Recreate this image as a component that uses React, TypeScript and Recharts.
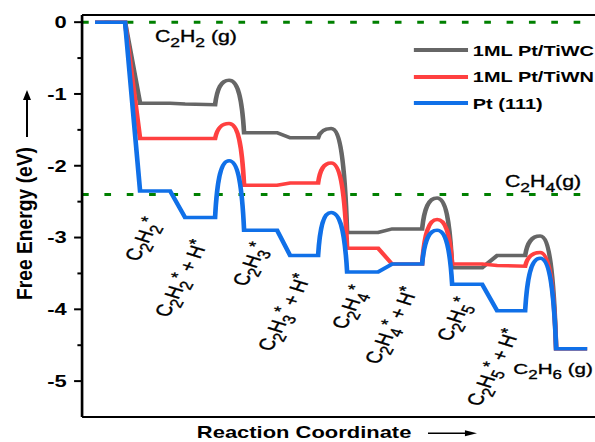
import React from 'react'
import { LineChart, Line, XAxis, YAxis, ReferenceLine, Legend } from 'recharts'

// reaction coordinate of each key point (plateau ends and transition states)
const coord = [1.3, 4.3, 5.8, 8.8, 10.3, 13.3, 14.7, 16.2, 19.5, 20.8, 23.6, 24.9, 26.5, 29.6, 31.0, 34.0, 35.5, 37.0, 40.0, 41.5, 44.3, 45.8, 47.4, 50.5]

// free energy (eV) at those points
const tiwc = [0, 0, -1.13, -1.13, -1.14, -1.15, -0.81, -1.54, -1.54, -1.61, -1.61, -1.48, -2.93, -2.93, -2.88, -2.88, -2.45, -3.42, -3.42, -3.25, -3.25, -2.98, -4.55, -4.55]
const tiwn = [0, 0, -1.62, -1.62, -1.62, -1.62, -1.41, -2.27, -2.27, -2.24, -2.24, -1.96, -3.15, -3.15, -3.37, -3.37, -2.75, -3.37, -3.37, -3.39, -3.4, -3.21, -4.55, -4.55]
const pt111 = [0, 0, -2.35, -2.35, -2.72, -2.72, -1.93, -2.9, -2.9, -3.25, -3.25, -2.65, -3.48, -3.48, -3.37, -3.37, -2.9, -3.65, -3.65, -4.02, -4.02, -3.29, -4.55, -4.55]

const seriesKeys = ['tiwc', 'tiwn', 'pt']
const seriesNames = ['1ML Pt/TiWC', '1ML Pt/TiWN', 'Pt (111)']
const seriesValues = [tiwc, tiwn, pt111]
const colors = ['#666666', '#ff4040', '#1070e8']

const yTicks = [0, -0.5, -1, -1.5, -2, -2.5, -3, -3.5, -4, -4.5, -5]
const gasLevels = [0, -2.4]

// intermediate names, "_" = subscript, "^" = superscript
const stateLabels = ['C_2H_2^*', 'C_2H_2^* + H^*', 'C_2H_3^*', 'C_2H_3^* + H^*', 'C_2H_4^*', 'C_2H_4^* + H^*', 'C_2H_5^*', 'C_2H_5^* + H^*']
const stateLabelPos = [[104, 262], [126.5, 318], [185, 287], [204, 352], [259.6, 330], [284.4, 365], [338.6, 342], [361, 407]]
const gasLabels = ['C_2H_2 (g)', 'C_2H_4(g)', 'C_2H_6 (g)']
const gasLabelPos = [[116.5, 42], [379.7, 187], [386, 374]]

const FONT = "'Liberation Sans', Arial, sans-serif"

const rows = coord.map((x, i) => {
  const r: any = { x }
  seriesKeys.forEach((k, j) => { r[k] = seriesValues[j][i] })
  return r
})

// straight segments, rounded bumps for the transition states
function bumpCurve(context: any) {
  let pts: number[][] = []
  return {
    areaStart() {},
    areaEnd() {},
    lineStart() { pts = [] },
    point(x: number, y: number) { pts.push([+x, +y]) },
    lineEnd() {
      if (!pts.length) return
      context.moveTo(pts[0][0], pts[0][1])
      for (let i = 1; i < pts.length; i++) {
        const [x0, y0] = pts[i - 1]
        const [x1, y1] = pts[i]
        const next = pts[i + 1]
        const isPeak = next && y1 < y0 && y1 < next[1]
        const fromPeak = i >= 2 && y0 < y1 && y0 < pts[i - 2][1]
        const dx = x1 - x0
        if (isPeak) {
          context.bezierCurveTo(x0 + dx * 0.15, y0 + (y1 - y0) * 0.7, x1 - dx * 0.55, y1, x1, y1)
        } else if (fromPeak) {
          context.bezierCurveTo(x0 + dx * 0.55, y0, x1 - dx * 0.15, y1 + (y0 - y1) * 0.7, x1, y1)
        } else {
          context.lineTo(x1, y1)
        }
      }
    },
  }
}

function YTick(props: any) {
  const { x, y, payload } = props
  const v = payload.value
  const major = Number.isInteger(v)
  return (
    <g>
      <line x1={x - (major ? 6 : 3.5)} x2={x} y1={y} y2={y} stroke="#000" strokeWidth={2} />
      {major && (
        <text x={x - 11.5} y={y} dy="0.36em" textAnchor="end" fontSize={16.5} fontWeight="bold" fontFamily={FONT} fill="#000">
          {String(v)}
        </text>
      )}
    </g>
  )
}

function Chem({ text, size }: { text: string; size: number }) {
  const segs: { t: string; kind: string }[] = []
  let buf = ''
  for (let i = 0; i < text.length; i++) {
    const ch = text[i]
    if (ch === '_' || ch === '^') {
      if (buf) segs.push({ t: buf, kind: 'n' })
      buf = ''
      segs.push({ t: text[i + 1], kind: ch === '_' ? 'sub' : 'sup' })
      i++
    } else buf += ch
  }
  if (buf) segs.push({ t: buf, kind: 'n' })
  let cur = 0
  return (
    <>
      {segs.map((s, i) => {
        const target = s.kind === 'sub' ? size * 0.3 : s.kind === 'sup' ? -size * 0.28 : 0
        const dy = target - cur
        cur = target
        const fs = s.kind === 'n' ? size : s.kind === 'sub' ? size * 0.82 : size * 0.85
        return (
          <tspan key={i} dy={dy} fontSize={fs}>
            {s.t}
          </tspan>
        )
      })}
    </>
  )
}

function LegendBox() {
  return (
    <div style={{ fontFamily: FONT }}>
      {seriesNames.map((n, i) => (
        <div key={n} style={{ display: 'flex', alignItems: 'center', height: 26.5 }}>
          <svg width={41} height={6} style={{ display: 'block' }}>
            <line x1={0} x2={41} y1={3} y2={3} stroke={colors[i]} strokeWidth={4} />
          </svg>
          <span style={{ marginLeft: 4, fontSize: 15, fontWeight: 'bold', lineHeight: 1, whiteSpace: 'nowrap', color: '#000' }}>{n}</span>
        </div>
      ))}
    </div>
  )
}

export default function App() {
  return (
    <div style={{ position: 'fixed', left: 0, top: 0, width: 595, height: 442, overflow: 'hidden', background: '#fff' }}>
      <div style={{ position: 'relative', width: 460, height: 442, transform: 'scaleX(1.33)', transformOrigin: '0 0' }}>
        <LineChart width={460} height={442} data={rows} margin={{ top: 15, right: 5, bottom: 0, left: 0 }}>
          <XAxis type="number" dataKey="x" domain={[0, 52.3]} tick={false} tickLine={false} height={25} axisLine={{ stroke: '#000', strokeWidth: 2 }} />
          <YAxis
            type="number"
            domain={[-5.5, 0.1]}
            ticks={yTicks}
            interval={0}
            width={61.7}
            tickSize={0}
            tickMargin={0}
            tickLine={false}
            allowDataOverflow
            axisLine={{ stroke: '#000', strokeWidth: 2 }}
            tick={(p: any) => <YTick {...p} />}
          />
          <ReferenceLine y={0.1} stroke="#000" strokeWidth={2} />
          {gasLevels.map((g) => (
            <ReferenceLine key={g} y={g} stroke="#008000" strokeWidth={3} strokeDasharray="5 11.8" />
          ))}
          {seriesKeys.map((k, i) => (
            <Line
              key={k}
              dataKey={k}
              name={seriesNames[i]}
              type={bumpCurve as any}
              stroke={colors[i]}
              strokeWidth={3.5}
              dot={false}
              activeDot={false}
              isAnimationActive={false}
            />
          ))}
          <Legend layout="vertical" align="center" verticalAlign="middle" wrapperStyle={{ top: 36.75, left: 310.5 }} content={() => <LegendBox />} />
        </LineChart>
        <svg width={460} height={442} style={{ position: 'absolute', left: 0, top: 0, pointerEvents: 'none' }} fontFamily={FONT}>
          {stateLabels.map((l, i) => {
            const [x, y] = stateLabelPos[i]
            return (
              <text key={l} x={x} y={y} transform={`rotate(-68 ${x} ${y})`} fontSize={16.5} fill="#000" stroke="#000" strokeWidth={0.35} style={{ whiteSpace: 'pre' }}>
                <Chem text={l} size={16.5} />
              </text>
            )
          })}
          {gasLabels.map((l, i) => {
            const [x, y] = gasLabelPos[i]
            return (
              <text key={l} x={x} y={y} fontSize={i === 2 ? 15.5 : 16} fill="#000" stroke="#000" strokeWidth={0.35} style={{ whiteSpace: 'pre' }}>
                <Chem text={l} size={i === 2 ? 15.5 : 16} />
              </text>
            )
          })}
          <text x={148} y={438.3} fontSize={16.5} fontWeight="bold" fill="#000">Reaction Coordinate</text>
          <line x1={321.8} x2={351} y1={433.3} y2={433.3} stroke="#000" strokeWidth={1.5} />
          <polygon points="358.6,433.3 349.6,430.3 349.6,436.3" fill="#000" />
          <text x={23.8} y={223.5} transform="rotate(-90 23.8 223.5)" textAnchor="middle" fontSize={16} fontWeight="bold" fill="#000" textLength={153} lengthAdjust="spacingAndGlyphs">
            Free Energy (eV)
          </text>
          <line x1={20.3} x2={20.3} y1={137} y2={99} stroke="#000" strokeWidth={1.5} />
          <polygon points="20.3,90 17.3,100 23.3,100" fill="#000" />
        </svg>
      </div>
    </div>
  )
}
